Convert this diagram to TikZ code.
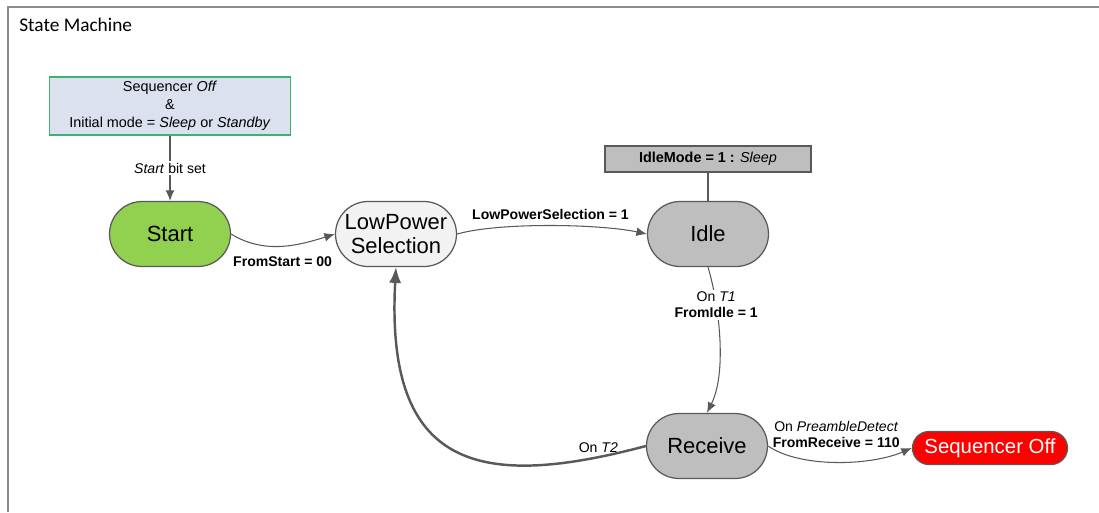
\documentclass[tikz,border=0pt]{standalone}
\usepackage{fontspec}
\setmainfont{Liberation Sans}
\newfontfamily\titlefont{Carlito}
\usepackage{xcolor}
\usepackage{tikz}
\usetikzlibrary{arrows.meta}
\definecolor{framegray}{HTML}{8C8C8C}
\definecolor{linegray}{HTML}{595959}
\definecolor{condfill}{HTML}{DCE1EF}
\definecolor{condline}{HTML}{3CB371}
\definecolor{startgreen}{HTML}{92D050}
\definecolor{lightfill}{HTML}{F2F2F2}
\definecolor{stategray}{HTML}{BEBEBE}
\definecolor{offred}{HTML}{FF0000}

\begin{document}
\begin{tikzpicture}[
        x=0.02cm, y=-0.02cm,
        state/.style={draw=linegray, line width=0.7pt, rounded corners=0.65cm, minimum width=2.42cm, minimum height=1.3cm, align=center, inner sep=1pt, font=\fontsize{12.5}{14}\selectfont},
        note/.style={draw, align=center, inner sep=1pt, font=\fontsize{8.2}{10.2}\selectfont},
        lbl/.style={align=center, inner sep=1pt, font=\fontsize{8}{9}\selectfont},
        arr/.style={-{Latex[length=6pt, width=5pt]}, draw=linegray, line width=0.6pt}
    ]
        \useasboundingbox (0,0) rectangle (1099,512);
        \draw[framegray, line width=1pt] (8,512) -- (8,7) -- (1099,7);
        \node[anchor=west, inner sep=0pt, font=\titlefont\fontsize{11}{13}\selectfont] (title) at (19,25) {State Machine};
        \node[note, draw=condline, line width=0.8pt, fill=condfill, minimum width=4.82cm, minimum height=1.16cm] (cond) at (170,106) {Sequencer \textit{Off}\\\&\\Initial mode = \textit{Sleep} or \textit{Standby}};
        \node[state, fill=startgreen] (start) at (170,234) {Start};
        \node[state, fill=lightfill] (low) at (396,234) {LowPower\\Selection};
        \node[state, fill=stategray] (idle) at (708,234) {Idle};
        \node[note, draw=linegray, line width=0.7pt, fill=stategray, minimum width=4.12cm, minimum height=0.52cm] (idlemode) at (708,159) {\textbf{IdleMode = 1 :} \textit{Sleep}};
        \node[state, fill=stategray] (rec) at (707,446) {Receive};
        \node[state, fill=offred, text=white, rounded corners=0.33cm, minimum width=3.1cm, minimum height=0.66cm, font=\fontsize{11.6}{13}\selectfont] (off) at (990,448) {Sequencer Off};
        \draw[arr] (cond) -- node[lbl, fill=white]{\textit{Start} bit set} (start);
        \draw[linegray, line width=0.7pt] (idlemode) -- (idle);
        \draw[arr] (start.east) .. controls (265,255) and (300,245) .. node[lbl, below=4.5pt]{\textbf{FromStart = 00}} (low.west);
        \draw[arr] (low.east) .. controls (500,222) and (600,224) .. node[lbl, above=2pt]{\textbf{LowPowerSelection = 1}} (idle.west);
        \draw[arr] (idle.south) .. controls (718,300) and (728,370) .. node[lbl, fill=white, pos=0.3]{On \textit{T1}\\\textbf{FromIdle = 1}} (rec.north);
        \draw[arr, line width=1.4pt, -{Latex[length=9pt, width=7pt]}] (rec.west) .. controls (480,490) and (385,470) .. node[lbl, pos=0.1, above=1pt]{On \textit{T2}} (low.south);
        \draw[arr] (rec.east) .. controls (800,468) and (870,466) .. node[lbl, above=7pt]{On \textit{PreambleDetect}\\\textbf{FromReceive = 110}} (off.west);
    \end{tikzpicture}
\end{document}
